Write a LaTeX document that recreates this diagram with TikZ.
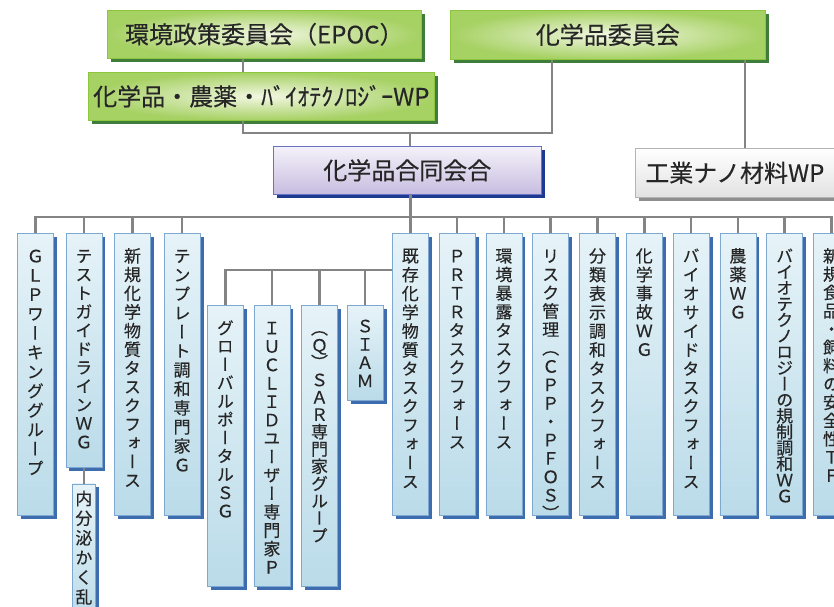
\documentclass[tikz,border=0pt]{standalone}
\usepackage{fontspec}
\newfontfamily\jpfont[FakeBold=0.3]{Noto Sans CJK JP}
\newfontfamily\tatefont[RawFeature=+vert,FakeBold=0.3]{Noto Sans CJK JP}
\usetikzlibrary{positioning,shadows}

\definecolor{ink}{HTML}{262626}
\definecolor{lineGray}{HTML}{848484}
\definecolor{grnIn}{HTML}{F2F7E2}
\definecolor{grnOut}{HTML}{A6D163}
\definecolor{grnEdge}{HTML}{8CC63F}
\definecolor{grnDark}{HTML}{3F7D3A}
\definecolor{prpTop}{HTML}{F5F2F9}
\definecolor{prpBot}{HTML}{C7BCE0}
\definecolor{prpEdge}{HTML}{6A72C4}
\definecolor{prpDark}{HTML}{1E3A90}
\definecolor{gryBot}{HTML}{E2E2E2}
\definecolor{gryEdge}{HTML}{B4B4B4}
\definecolor{gryDark}{HTML}{8E8E8E}
\definecolor{bluTop}{HTML}{E6F3F8}
\definecolor{bluMid}{HTML}{C8E5F0}
\definecolor{bluBot}{HTML}{BADBE9}
\definecolor{bluEdge}{HTML}{7EA8D0}
\definecolor{bluDark}{HTML}{3E6DAF}

% vertical text: [pitch]{width}{height}{characters}
\newlength\tateskip \setlength\tateskip{14pt}
\newcommand\tate[4][18.7pt]{\vbox to #3{\baselineskip=#1\lineskiplimit=-\maxdimen
  \def\tatew{#2}\vskip\tateskip\tatechars#4\relax\vfill}}
\def\tatechars#1{\ifx\relax#1\else
  \hbox to\tatew{\hss\vrule height 15pt depth 0pt width 0pt#1\hss}\expandafter\tatechars\fi}

\begin{document}
\begin{tikzpicture}[x=1pt,y=-1pt,
  conn/.style={draw=lineGray,line width=2.6pt},
  topbox/.style={anchor=north west,inner sep=0pt,line width=0.6pt,text=ink,
    font=\jpfont\fontsize{24}{28}\selectfont},
  grn/.style={topbox,draw=grnEdge,inner color=grnIn,outer color=grnOut,
    drop shadow={shadow xshift=3.5pt,shadow yshift=-3.5pt,fill=grnDark,opacity=1}},
  prp/.style={topbox,draw=prpEdge,top color=prpTop,bottom color=prpBot,
    drop shadow={shadow xshift=3.5pt,shadow yshift=-3.5pt,fill=prpDark,opacity=1}},
  gry/.style={topbox,draw=gryEdge,top color=white,bottom color=gryBot,
    drop shadow={shadow xshift=3.5pt,shadow yshift=-3.5pt,fill=gryDark,opacity=1}},
  tf/.style={draw=bluEdge,line width=0.6pt,top color=bluTop,middle color=bluMid,
    bottom color=bluBot,inner sep=0pt,text=ink,font=\tatefont\fontsize{17}{18}\selectfont,
    drop shadow={shadow xshift=3.5pt,shadow yshift=-3.5pt,fill=bluDark,opacity=1}}]
  \useasboundingbox (0,0) rectangle (834,606);

  % upper committees
  \node[grn,minimum width=314pt,minimum height=48pt] (epoc) at (107,10) {環境政策委員会（EPOC）};
  \node[grn,minimum width=346pt,minimum height=48pt] (wp) at (88,72) {化学品・農薬・ﾊﾞｲｵﾃｸﾉﾛｼﾞｰWP};
  \node[grn,minimum width=315pt,minimum height=49pt] (iinkai) at (450,10) {化学品委員会};
  \node[prp,minimum width=268pt,minimum height=48pt] (godo) at (273,146) {化学品合同会合};
  \node[gry,minimum height=49pt,inner xsep=10pt,text width=185pt,align=left] (nano) at (635,148) {工業ナノ材料WP};

  % left group
  \node[tf,anchor=north west] (glp) at (17,233) {\tate[19.3pt]{36pt}{282pt}{ＧＬＰワーキンググループ}};
  \node[tf,right=12pt of glp.north east,anchor=north west] (test) {\tate[18.6pt]{36pt}{234pt}{テストガイドラインＷＧ}};
  \node[tf,below=16pt of test] (naibun) {\setlength\tateskip{6pt}\tate[19.7pt]{23pt}{140pt}{内分泌かく乱}};
  \node[tf,right=12pt of test.north east,anchor=north west] (shin) {\tate{36pt}{282pt}{新規化学物質タスクフォース}};
  \node[tf,right=13pt of shin.north east,anchor=north west] (temp) {\tate[19pt]{36pt}{282pt}{テンプレート調和専門家Ｇ}};

  % groups under the existing chemicals task force
  \node[tf,anchor=north west] (glob) at (207,305) {\tate[18.3pt]{36pt}{281pt}{グローバルポータルＳＧ}};
  \node[tf,right=10pt of glob.north east,anchor=north west] (iuclid) {\tate[18.4pt]{36pt}{281pt}{ＩＵＣＬＩＤユーザー専門家Ｐ}};
  \node[tf,right=11pt of iuclid.north east,anchor=north west] (qsar) {\tate[17.3pt]{36pt}{281pt}{（Ｑ）ＳＡＲ専門家グループ}};
  \node[tf,right=9pt of qsar.north east,anchor=north west] (siam) {\setlength\tateskip{12pt}\tate[18.3pt]{36pt}{95pt}{ＳＩＡＭ}};

  % right group
  \node[tf,anchor=north west] (kizon) at (392,233) {\tate[18.8pt]{36pt}{282pt}{既存化学物質タスクフォース}};
  \node[tf,right=10.2pt of kizon.north east,anchor=north west] (prtr) {\tate[18.6pt]{36pt}{282pt}{ＰＲＴＲタスクフォース}};
  \node[tf,right=10.2pt of prtr.north east,anchor=north west] (kankyo) {\tate[18.6pt]{36pt}{282pt}{環境暴露タスクフォース}};
  \node[tf,right=10.2pt of kankyo.north east,anchor=north west] (risk) {\tate[18.4pt]{36pt}{282pt}{リスク管理（ＣＰＰ・ＰＦＯＳ）}};
  \node[tf,right=10.2pt of risk.north east,anchor=north west] (bunrui) {\tate[18.8pt]{36pt}{282pt}{分類表示調和タスクフォース}};
  \node[tf,right=10.2pt of bunrui.north east,anchor=north west] (jiko) {\tate{36pt}{282pt}{化学事故ＷＧ}};
  \node[tf,right=10.2pt of jiko.north east,anchor=north west] (bio) {\tate[18.8pt]{36pt}{282pt}{バイオサイドタスクフォース}};
  \node[tf,right=10.2pt of bio.north east,anchor=north west] (noyaku) {\tate{36pt}{282pt}{農薬ＷＧ}};
  \node[tf,right=10.2pt of noyaku.north east,anchor=north west] (biotech) {\tate[16pt]{36pt}{282pt}{バイオテクノロジーの規制調和ＷＧ}};
  \node[tf,right=10.2pt of biotech.north east,anchor=north west] (food) {\tate[18.3pt]{36pt}{282pt}{新規食品・飼料の安全性ＴＦ}};

  % connectors
  \coordinate (jw) at (243,0);
  \coordinate (ji) at (552,0);
  \coordinate (jn) at (745,0);
  \coordinate (jtop) at (410,133);
  \coordinate (bus) at (0,217);
  \coordinate (midbus) at (0,270);
  \draw[conn] (epoc.south -| jw) -- (wp.north -| jw);
  \draw[conn] (wp.south -| jw) |- (jtop) -- (godo.north -| jtop);
  \draw[conn] (iinkai.south -| ji) |- (jtop);
  \draw[conn] (iinkai.south -| jn) -- (nano.north -| jn);
  \draw[conn] (godo.south -| kizon.north) -- (kizon.north);
  \draw[conn] (glp.north) |- (food.north |- bus) -- (food.north);
  \foreach \b in {test,shin,temp,prtr,kankyo,risk,bunrui,jiko,bio,noyaku,biotech}
    \draw[conn] (\b.north) -- (\b.north |- bus);
  \draw[conn] (test.south) -- (naibun.north);
  \draw[conn] (glob.north) |- (kizon.west |- midbus);
  \foreach \b in {iuclid,qsar,siam}
    \draw[conn] (\b.north) -- (\b.north |- midbus);
\end{tikzpicture}
\end{document}
